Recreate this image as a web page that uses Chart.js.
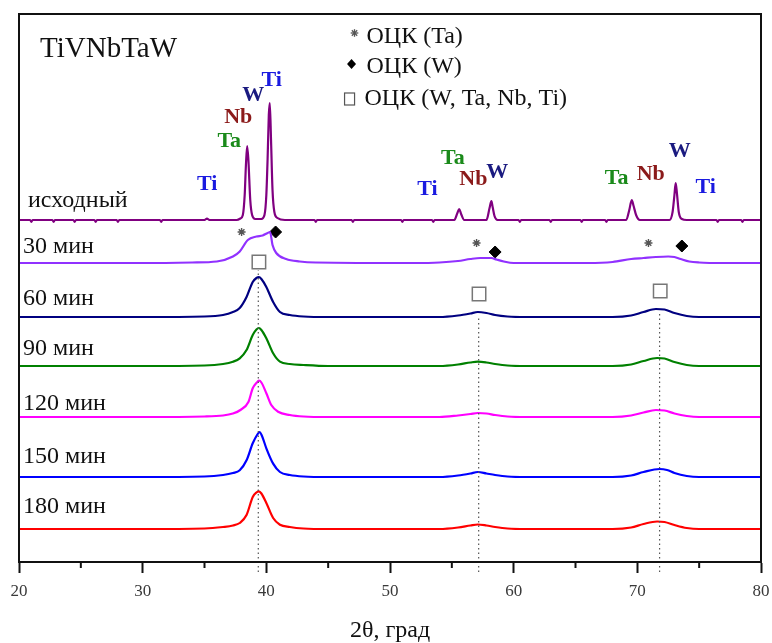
<!DOCTYPE html>
<html><head><meta charset="utf-8">
<script src="https://cdn.jsdelivr.net/npm/chart.js@4.4.1/dist/chart.umd.min.js"></script>
<style>html,body{margin:0;padding:0;background:#fff;}</style>
</head><body>
<canvas id="c" width="772" height="643"></canvas>
<script>
// ---- data (2θ in degrees, intensity rise in arbitrary units) ----
const xTicks = [20, 30, 40, 50, 60, 70, 80];
const seriesNames = ['исходный', '30 мин', '60 мин', '90 мин', '120 мин', '150 мин', '180 мин'];
const seriesOffsets = [342, 299, 245, 196, 145, 85, 33];

const thetaInit = [20, 20.9,21.0,21.1, 22.7,22.8,22.9, 24.4,24.5,24.6, 26.1,26.2,26.3, 27.9,28.0,28.1, 30, 31.4,31.5,31.6, 33, 35,35.2,35.4,
  37.6,37.9,38.1,38.25,38.35,38.45,38.55,38.7,38.85,39.1, 39.6,39.85,40.0,40.1,40.2,40.28,40.38,40.5,40.65,40.9,41.5,
  43.9,44.0,44.1, 46.9,47.0,47.1, 50, 50.9,51.0,51.1, 53.4,53.5,53.6, 55.2,55.45,55.6,55.75,56.0, 57.8,58.05,58.2,58.3,58.45,58.7,
  60.4,60.5,60.6, 62.9,63.0,63.1, 65.4,65.5,65.6, 67.4,67.5,67.6, 69.1,69.35,69.55,69.7,69.9,70.2, 72.6,72.85,73.0,73.1,73.2,73.35,73.6,74,
  76.4,76.5,76.6, 78.4,78.5,78.6, 80];
const intInit = [0, 0,-1.8,0, 0,-1.8,0, 0,-1.8,0, 0,-1.8,0, 0,-1.8,0, 0, 0,-1.8,0, 0, 0,1.5,0,
  0,1.5,5,25,55,74,60,20,5,1, 1,5,25,60,105,117,80,30,8,2,0,
  0,-1.8,0, 0,-1.8,0, 0, 0,-1.8,0, 0,-1.8,0, 0,7,11,6,0, 0,12,19,13,4,0,
  0,-1.8,0, 0,-1.8,0, 0,-1.8,0, 0,-1.8,0, 0,10,20,14,5,0, 0,8,25,37,27,8,1,0,
  0,-1.8,0, 0,-1.8,0, 0];

const theta30 = [20,30,34,36,37.3,37.85,38.5,39.2,39.7,40.1,40.3,40.5,40.8,41.6,42.7,44,52,54,55.5,56.5,57.3,58.2,58.6,59.2,60,66,68,69.5,70.5,71.5,72.5,73.0,73.5,74.2,75,77,80];
const int30   = [0,0,0.5,1.5,6.5,11.5,23,26.5,27.5,30,31,18,10,4,1.5,0.5,0,0.5,2,4,5,5,3.5,1.5,0,0,1,4,5,6,6.5,6,4,1.5,0.5,0,0];

const theta60 = [20,30,35,36.5,37.3,37.85,38.4,38.9,39.2,39.4,39.6,40.0,40.55,41.1,41.9,43,45,54,55.5,56.5,57.1,57.8,58.5,59.5,61,68,69.5,70.5,71.5,72.2,73,74,75,80];
const int60   = [0,0,0.5,2,5,9,20,35,39,40,38,30,15,5,2,0.5,0,0,1.5,3.5,5,4,2,0.5,0,0,1.5,5,8,7.5,4,1,0,0];

const theta90 = [20,30,35,36.5,37.3,37.85,38.4,38.9,39.2,39.4,39.6,40.0,40.55,41.1,41.9,43,45,54,55.5,56.5,57.1,57.8,58.5,59.5,61,68,69.5,70.5,71.6,72.2,73,74,75,80];
const int90   = [0,0,0.5,2,4.3,7.7,16,31,36.5,38,36,27.7,12.7,4.3,2,1,0,0,1.5,3.5,4.3,3.5,2,0.5,0,0,1.5,5,8,7.5,4,1,0,0];

const theta120 = [20,30,35,36.5,37.3,37.9,38.55,38.9,39.2,39.4,39.6,40.0,40.4,40.95,41.9,43,45,54,55.5,56.5,57.1,57.8,58.5,59.5,61,68,69.5,70.5,71.5,72.2,73,74,75,80];
const int120   = [0,0,0.5,1.5,3.5,7,15,28.7,34,36.3,34.5,23.7,12,5.3,2,0.5,0,0,1.5,3,4,3.5,2,0.5,0,0,1.5,4.5,7,6.5,3.5,1,0,0];

const theta150 = [20,30,35,36.5,37.3,37.85,38.4,38.9,39.25,39.45,39.65,40.0,40.55,41.1,41.9,43,45,54,55.5,56.5,57.1,57.8,58.5,59.5,61,68,69.5,70.5,71.8,72.4,73,74,75,80];
const int150   = [0,0,0.5,2,4,6.7,16.7,33.7,42,45,41,28.7,13.4,5,2,0.5,0,0,1.5,3.5,5,3.5,2,0.5,0,0,1.5,5,8,7,4,1,0,0];

const theta180 = [20,30,35,36.5,37.3,37.85,38.4,38.9,39.2,39.4,39.6,40.0,40.55,41.1,41.9,43,45,54,55.5,56.5,57.1,57.8,58.5,59.5,61,68,69.5,70.5,71.6,72.2,73,74,75,80];
const int180   = [0,0,0.5,2,3.5,6,14,32,36.5,37.6,35.5,26,11,4.3,2,0.5,0,0,1.5,3.5,4.5,3.5,2,0.5,0,0,1.5,5,7.5,7,4,1,0,0];

// phase markers (2θ, level)
const starTheta = [38.0, 57.0, 70.9];     const starLevel = [330, 319, 319];
const diamTheta = [40.75, 58.5, 73.6];    const diamLevel = [330, 310, 316];
const sqTheta   = [39.4, 57.2, 71.85];    const sqLevel   = [300, 268, 271];
const dotTheta  = [39.35, 57.17, 71.8];   const dotTop    = [292, 245, 249];

const colors = ['#800080', '#9131ff', '#000080', '#008000', '#ff00ff', '#0000ff', '#ff0000'];
const thetas = [thetaInit, theta30, theta60, theta90, theta120, theta150, theta180];
const ints = [intInit, int30, int60, int90, int120, int150, int180];

const datasets = [];
dotTheta.forEach((t, i) => {
  datasets.push({data: [{x: t, y: -10}, {x: t, y: dotTop[i]}], borderColor: '#555', borderWidth: 1.2,
    borderDash: [1.5, 3], pointRadius: 0, clip: false, tension: 0});
});
thetas.forEach((th, i) => {
  datasets.push({label: seriesNames[i], data: th.map((t, j) => ({x: t, y: seriesOffsets[i] + ints[i][j]})),
    borderColor: colors[i], borderWidth: 2.2, pointRadius: 0, cubicInterpolationMode: 'monotone', fill: false});
});
datasets.push({data: starTheta.map((t, i) => ({x: t, y: starLevel[i]})), showLine: false, pointStyle: 'star',
  pointRadius: 4, pointBorderColor: '#555', pointBorderWidth: 1.4});
datasets.push({data: diamTheta.map((t, i) => ({x: t, y: diamLevel[i]})), showLine: false, pointStyle: 'rectRot',
  pointRadius: 6, pointBackgroundColor: '#000', pointBorderColor: '#000', pointBorderWidth: 1});
datasets.push({data: sqTheta.map((t, i) => ({x: t, y: sqLevel[i]})), showLine: false, pointStyle: 'rect',
  pointRadius: 9.5, pointBackgroundColor: '#fff', pointBorderColor: '#777', pointBorderWidth: 1.5});

// ---- text annotations (placed through the chart scales) ----
const serif = '"Liberation Serif", "Times New Roman", serif';
const seriesLabelX = [20.73, 20.32, 20.32, 20.32, 20.32, 20.32, 20.32];
const seriesLabelY = [355, 309, 257, 207, 152, 99, 49];
const CTi = '#1a1ae0', CTa = '#1a8a1a', CNb = '#8b1a1a', CW = '#1a1a80';
const peakLabels = [
  ['Ti', CTi, 35.22, 372], ['Ta', CTa, 37.0, 415], ['Nb', CNb, 37.73, 439], ['W', CW, 38.94, 461], ['Ti', CTi, 40.43, 476],
  ['Ti', CTi, 53.03, 367], ['Ta', CTa, 55.09, 398], ['Nb', CNb, 56.74, 377], ['W', CW, 58.68, 384],
  ['Ta', CTa, 68.33, 378], ['Nb', CNb, 71.08, 382], ['W', CW, 73.42, 405], ['Ti', CTi, 75.52, 369]
];

const overlay = {
  id: 'overlay',
  afterDraw(chart) {
    const ctx = chart.ctx, ca = chart.chartArea, xs = chart.scales.x, ys = chart.scales.y;
    const X = v => xs.getPixelForValue(v), Y = v => ys.getPixelForValue(v);
    ctx.save();
    // frame
    ctx.strokeStyle = '#111'; ctx.lineWidth = 2;
    ctx.strokeRect(ca.left, ca.top, ca.right - ca.left, ca.bottom - ca.top);
    // minor ticks
    [25, 35, 45, 55, 65, 75].forEach(v => {
      const x = X(v);
      ctx.beginPath(); ctx.moveTo(x, ca.bottom); ctx.lineTo(x, ca.bottom + 6); ctx.stroke();
    });
    ctx.textBaseline = 'alphabetic';
    // title
    ctx.fillStyle = '#111'; ctx.textAlign = 'left';
    ctx.font = '29px ' + serif;
    ctx.fillText('TiVNbTaW', X(21.70), Y(505));
    // series labels
    ctx.font = '24px ' + serif;
    seriesNames.forEach((n, i) => ctx.fillText(n, X(seriesLabelX[i]), Y(seriesLabelY[i])));
    // legend
    ctx.fillText('ОЦК (Ta)', X(48.10), Y(519));
    ctx.fillText('ОЦК (W)', X(48.10), Y(489));
    ctx.fillText('ОЦК (W, Ta, Nb, Ti)', X(47.94), Y(457));
    // legend symbols
    const sx = X(47.13), sy = Y(529);
    ctx.strokeStyle = '#555'; ctx.lineWidth = 1.3;
    for (let k = 0; k < 4; k++) {
      const a = k * Math.PI / 4;
      ctx.beginPath(); ctx.moveTo(sx - 3.8 * Math.cos(a), sy - 3.8 * Math.sin(a));
      ctx.lineTo(sx + 3.8 * Math.cos(a), sy + 3.8 * Math.sin(a)); ctx.stroke();
    }
    const dx = X(46.89), dy = Y(498);
    ctx.fillStyle = '#000';
    ctx.beginPath(); ctx.moveTo(dx, dy - 5); ctx.lineTo(dx + 4.5, dy); ctx.lineTo(dx, dy + 5); ctx.lineTo(dx - 4.5, dy); ctx.closePath(); ctx.fill();
    const qx = X(46.73), qy = Y(463);
    ctx.strokeStyle = '#555'; ctx.lineWidth = 1.2;
    ctx.strokeRect(qx - 5, qy - 6, 10, 12);
    // peak labels
    ctx.textAlign = 'center';
    ctx.font = 'bold 22px ' + serif;
    peakLabels.forEach(p => { ctx.fillStyle = p[1]; ctx.fillText(p[0], X(p[2]), Y(p[3])); });
    ctx.restore();
  }
};

new Chart(document.getElementById('c'), {
  type: 'line',
  data: {datasets},
  options: {
    responsive: false, animation: false,
    layout: {padding: {left: 19, right: 10, top: 14, bottom: 0}},
    plugins: {legend: {display: false}, tooltip: {enabled: false}},
    elements: {line: {borderJoinStyle: 'round'}},
    scales: {
      x: {
        type: 'linear', min: 20, max: 80,
        afterBuildTicks: s => { s.ticks = xTicks.map(v => ({value: v})); },
        afterFit: s => { s.height = 81; s.paddingLeft = 0; s.paddingRight = 0; },
        grid: {drawOnChartArea: false, drawTicks: true, tickLength: 11, tickWidth: 2, tickColor: '#111'},
        border: {display: true, width: 2, color: '#111'},
        ticks: {padding: 8, color: '#3a3a3a', font: {family: serif, size: 17}},
        title: {display: true, text: '2θ, град', color: '#111', font: {family: serif, size: 24, lineHeight: 1}, padding: {top: 0, bottom: 0}}
      },
      y: {type: 'linear', min: 0, max: 548, display: false}
    }
  },
  plugins: [overlay]
});
</script>
</body></html>
